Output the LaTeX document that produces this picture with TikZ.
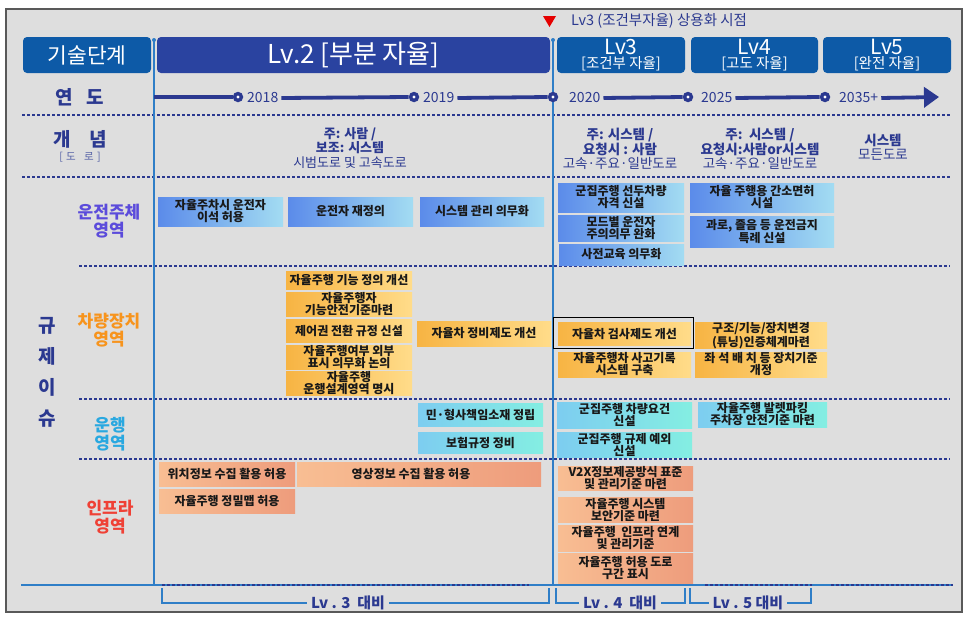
\documentclass[tikz,border=0pt]{standalone}
\usepackage{fontspec}
\setmainfont{Noto Sans CJK KR}
\usetikzlibrary{arrows.meta}
\definecolor{bggray}{HTML}{DEDEDE}
\definecolor{navy}{HTML}{2B3990}
\definecolor{hblue}{HTML}{0D5AA7}
\definecolor{hnavy}{HTML}{2A43A0}
\definecolor{vblue}{HTML}{2F7EC7}
\definecolor{dL}{HTML}{5B8BEA}
\definecolor{dR}{HTML}{A3DCF2}
\definecolor{vL}{HTML}{F7B443}
\definecolor{vR}{HTML}{FFDC8A}
\definecolor{oL}{HTML}{7DCDF0}
\definecolor{oR}{HTML}{84EEE2}
\definecolor{iL}{HTML}{F8BE93}
\definecolor{iR}{HTML}{EE9C7C}
\definecolor{cviolet}{HTML}{5B4BDB}
\definecolor{corange}{HTML}{F7941D}
\definecolor{ccyan}{HTML}{29A8E0}
\definecolor{cred}{HTML}{EF4136}
\tikzset{
  base/.style={inner sep=0pt, align=center, font=\bfseries\fontsize{12}{12}\selectfont, text=black!90},
  drvbox/.style={base, left color=dL, right color=dR},
  vehbox/.style={base, left color=vL, right color=vR},
  opbox/.style={base, left color=oL, right color=oR},
  infbox/.style={base, left color=iL, right color=iR},
  hdr/.style={rounded corners=4pt, text=white, inner sep=0pt, align=center},
  hdrtxt/.style={text=white, inner sep=0pt},
  dline/.style={navy, line width=1.2pt, dash pattern=on 3pt off 2pt},
  yline/.style={navy, line width=3.8pt},
  ydot/.style={circle, fill=navy, minimum size=10.5pt, inner sep=0pt,
    path picture={\fill[white] (path picture bounding box.center) circle (1.7pt);}},
  yr/.style={text=navy, font=\fontsize{14}{14}\selectfont, inner sep=3pt, anchor=west},
  ctext/.style={text=navy, align=center, font=\fontsize{13.5}{14.5}\selectfont, inner sep=0pt},
  sect/.style={align=center, font=\bfseries\fontsize{17}{18}\selectfont, inner sep=0pt},
  lefthd/.style={text=navy, align=center, font=\bfseries\fontsize{19}{19}\selectfont, inner sep=0pt},
  brk/.style={vblue, line width=1.2pt},
  brklab/.style={text=navy, font=\bfseries\fontsize{15}{15}\selectfont, inner sep=4pt},
}
\newcommand\mkbox[7]{\node[#1, minimum width={(#5-#3)*1pt}, minimum height={(#6-#4)*1pt}] (#2) at ({(#3+#5)/2},{(#4+#6)/2}) {#7};}
\begin{document}
\begin{tikzpicture}[x=1pt,y=-1pt]
\useasboundingbox (0,0) rectangle (965,616);
\fill[white] (0,0) rectangle (965,616);
\draw[fill=bggray, draw=black!65, line width=1.2pt] (6,9) rectangle (962,612);

% header
\fill[red!90!black] (543,16) -- (556,16) -- (549.5,27) -- cycle;
\node[text=navy, anchor=west, font=\fontsize{14.5}{14.5}\selectfont, inner sep=0pt] (lv3note) at (571,21) {Lv3 (조건부자율) 상용화 시점};
\mkbox{hdr, fill=hblue}{h0}{23}{37}{151}{73}{\fontsize{21.5}{21.5}\selectfont 기술단계}
\mkbox{hdr, fill=hnavy}{h2}{157}{37}{550}{73}{\fontsize{26}{26}\selectfont Lv.2 [부분 자율]}
\mkbox{hdr, fill=hblue}{h3}{557}{37}{685}{73}{}
\mkbox{hdr, fill=hblue}{h4}{691}{37}{818}{73}{}
\mkbox{hdr, fill=hblue}{h5}{823}{37}{951}{73}{}
\node[hdrtxt, font=\fontsize{21}{21}\selectfont] (h3a) at (621,47) {Lv3};
\node[hdrtxt, font=\fontsize{14.5}{14.5}\selectfont] (h3b) at (621,64) {[조건부 자율]};
\node[hdrtxt, font=\fontsize{21}{21}\selectfont] (h4a) at (754.5,47) {Lv4};
\node[hdrtxt, font=\fontsize{14.5}{14.5}\selectfont] (h4b) at (754.5,64) {[고도 자율]};
\node[hdrtxt, font=\fontsize{21}{21}\selectfont] (h5a) at (887,47) {Lv5};
\node[hdrtxt, font=\fontsize{14.5}{14.5}\selectfont] (h5b) at (887,64) {[완전 자율]};

% dashed separators
\coordinate (s1a) at (22,115); \coordinate (s1b) at (950,115);
\coordinate (s2a) at (22,177); \coordinate (s2b) at (950,177);
\coordinate (s3a) at (79,266); \coordinate (s3b) at (950,266);
\coordinate (s4a) at (79,399); \coordinate (s4b) at (950,399);
\coordinate (s5a) at (79,459); \coordinate (s5b) at (950,459);
\draw[dline] (s1a) -- (s1b);
\draw[dline] (s2a) -- (s2b);
\draw[dline] (s3a) -- (s3b);
\draw[dline] (s4a) -- (s4b);
\draw[dline] (s5a) -- (s5b);

% bottom line
\coordinate (b0) at (21,585); \coordinate (b9) at (953,585);
\draw[vblue, line width=1.5pt] (b0) -- (b9);
\draw[dline] (162,585) -- (529,585);
\draw[dline] (705,585) -- (812,585);
\draw[dline] (831,585) -- (953,585);

% vertical lines
\coordinate (v1t) at (154,40); \coordinate (v1b) at (154,585);
\coordinate (v2t) at (553,40); \coordinate (v2b) at (553,585);
\draw[vblue, line width=1.5pt] (v1t) -- (v1b);
\draw[vblue, line width=1.5pt] (v2t) -- (v2b);
\fill[vblue] (v1t) circle (2pt);
\fill[vblue] (v2t) circle (2pt);

% year row
\node[lefthd] (yeon) at (80,97) {연\hspace{0.7em}도};
\coordinate (ys) at (154,97);
\node[ydot] (d18) at (238,97) {};
\node[ydot] (d19) at (414,97) {};
\node[ydot] (d20) at (553,97) {};
\node[ydot] (d25) at (688,97) {};
\node[ydot] (d35) at (825,97) {};
\node[yr] (t18) at (244,98) {2018};
\node[yr] (t19) at (420,98) {2019};
\node[yr] (t20) at (566,98) {2020};
\node[yr] (t25) at (698,98) {2025};
\node[yr] (t35) at (836,98) {2035+};
\coordinate (yend) at (939,97);
\draw[yline] (ys) -- (d18.west);
\draw[yline] (t18.east) -- (d19.west);
\draw[yline] (t19.east) -- (d20.west);
\draw[yline] (t20.east) -- (d25.west);
\draw[yline] (t25.east) -- (d35.west);
\draw[yline, -{Triangle[length=15pt,width=20pt]}] (t35.east) -- (yend);

% concept row
\node[lefthd] (gae) at (80,139) {개\hspace{1em}념};
\node[text=navy!80, font=\fontsize{10.5}{10.5}\selectfont, inner sep=0pt] (doro) at (80,157) {[\hspace{0.3em}도\hspace{0.8em}로\hspace{0.3em}]};
\node[ctext, font=\fontsize{13}{14.5}\selectfont] (c2) at (350,148) {\textbf{주: 사람 /}\\\textbf{보조: 시스템}\\시범도로 및 고속도로};
\node[ctext] (c3) at (620,149) {\textbf{주: 시스템 /}\\\textbf{요청시 : 사람}\\고속·주요·일반도로};
\node[ctext] (c4) at (760,149) {\textbf{주:\, 시스템 /}\\\textbf{요청시:사람or시스템}\\고속·주요·일반도로};
\node[ctext] (c5) at (883,147) {\textbf{시스템}\\모든도로};

% left labels
\node[lefthd, font=\bfseries\fontsize{19}{31}\selectfont] (gyuje) at (47,372) {규\\제\\이\\슈};
\node[sect, text=cviolet] (l1) at (109,221) {운전주체\\영역};
\node[sect, text=corange] (l2) at (109,330) {차량장치\\영역};
\node[sect, text=ccyan] (l3) at (110,434) {운행\\영역};
\node[sect, text=cred] (l4) at (110,517) {인프라\\영역};

% driver boxes
\mkbox{drvbox}{a1}{158}{197}{283}{226}{자율주차시 운전자\\이석 허용}
\mkbox{drvbox}{a2}{288}{197}{413}{226}{운전자 재정의}
\mkbox{drvbox}{a3}{420}{197}{544}{226}{시스템 관리 의무화}
\mkbox{drvbox}{a4}{558}{183}{684}{212}{군집주행 선두차량\\자격 신설}
\mkbox{drvbox}{a5}{558}{215}{684}{241}{모드별 운전자\\주의의무 완화}
\mkbox{drvbox}{a6}{559}{244}{684}{265}{사전교육 의무화}
\mkbox{drvbox}{a7}{690}{183}{834}{212}{자율 주행용 간소면허\\시설}
\mkbox{drvbox}{a8}{690}{216}{834}{247}{과로, 졸음 등 운전금지\\특례 신설}

% vehicle boxes
\mkbox{vehbox}{b1}{286}{271}{412}{289}{자율주행 기능 정의 개선}
\mkbox{vehbox}{b2}{286}{292}{412}{316}{자율주행자\\기능안전기준마련}
\mkbox{vehbox}{b3}{286}{319}{412}{342}{제어권 전환 규정 신설}
\mkbox{vehbox}{b4}{286}{345}{412}{369}{자율주행여부 외부\\표시 의무화 논의}
\mkbox{vehbox}{b5}{286}{372}{412}{395}{자율주행\\운행설계영역 명시}
\mkbox{vehbox}{b6}{417}{321}{551}{346}{자율차 정비제도 개선}
\mkbox{vehbox}{b7}{558}{322}{691}{345}{자율차 검사제도 개선}
\node[draw=black, line width=0.9pt, minimum width=140pt, minimum height=31pt, inner sep=0pt] (hl) at (623,332.5) {};
\mkbox{vehbox}{b8}{558}{352}{691}{377}{자율주행차 사고기록\\시스템 구축}
\mkbox{vehbox}{b9}{695}{323}{827}{348}{구조/기능/장치변경\\(튜닝)인증체계마련}
\mkbox{vehbox}{b10}{695}{352}{827}{377}{좌 석 배 치 등 장치기준\\개정}

% operation boxes
\mkbox{opbox}{o1}{418}{403}{543}{426}{민·형사책임소재 정립}
\mkbox{opbox}{o2}{418}{432}{543}{453}{보험규정 정비}
\mkbox{opbox}{o3}{557}{402}{692}{428}{군집주행 차량요건\\신설}
\mkbox{opbox}{o4}{557}{432}{692}{457}{군집주행 규제 예외\\신설}
\mkbox{opbox}{o5}{698}{402}{827}{427}{자율주행 발렛파킹\\주차장 안전기준 마련}

% infra boxes
\mkbox{infbox}{i1}{159}{462}{295}{486}{위치정보 수집 활용 허용}
\mkbox{infbox}{i2}{297}{462}{541}{486}{\hspace*{-16pt}영상정보 수집 활용 허용}
\mkbox{infbox}{i3}{159}{489}{295}{513}{자율주행 정밀맵 허용}
\mkbox{infbox}{i4}{558}{466}{693}{490}{V2X정보제공방식 표준\\및 관리기준 마련}
\mkbox{infbox}{i5}{558}{497}{693}{522}{자율주행 시스템\\보안기준 마련}
\mkbox{infbox}{i6}{558}{525}{693}{551}{자율주행\ \ 인프라 연계\\및 관리기준}
\mkbox{infbox}{i7}{558}{553}{693}{583}{자율주행 허용 도로\\구간 표시}

% brackets
\node[brklab] (k3) at (348,603) {Lv . 3\ \ 대비};
\node[brklab] (k4) at (620,603) {Lv . 4\ \ 대비};
\node[brklab] (k5) at (748,603) {Lv . 5 대비};
\coordinate (k3a) at (162,588); \coordinate (k3b) at (549,588);
\coordinate (k4a) at (556,588); \coordinate (k4b) at (685,588);
\coordinate (k5a) at (690,588); \coordinate (k5b) at (811,588);
\draw[brk] (k3a) |- (k3.west);
\draw[brk] (k3.east) -| (k3b);
\draw[brk] (k4a) |- (k4.west);
\draw[brk] (k4.east) -| (k4b);
\draw[brk] (k5a) |- (k5.west);
\draw[brk] (k5.east) -| (k5b);
\end{tikzpicture}
\end{document}
